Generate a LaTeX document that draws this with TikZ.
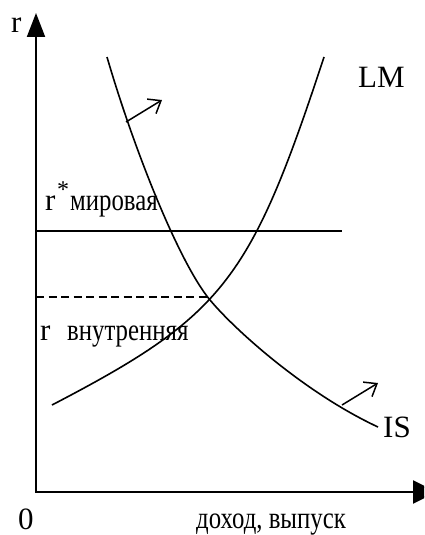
\documentclass[tikz,border=0pt]{standalone}
\usepackage{fontspec}
\setmainfont{Liberation Serif}
\usetikzlibrary{arrows.meta}
\tikzset{
  lbl/.style={anchor=base west, inner sep=0pt, font=\fontsize{31}{36}\selectfont},
  axisline/.style={line width=2pt},
  curve/.style={line width=1.6pt},
  shiftarrow/.style={line width=1.5pt, -{Straight Barb[length=11pt,width=17pt,line width=1.5pt]}}
}
\newcommand{\sq}[1]{\scalebox{0.8}[1]{#1}}
\begin{document}
\begin{tikzpicture}[x=1pt,y=-1pt]
\clip (0,0) rectangle (424,535);
\fill[white] (0,0) rectangle (424,535);
% axes
\coordinate (O) at (36,492);
\coordinate (ytop) at (36,13);
\coordinate (xend) at (437,492);
\draw[axisline, {Triangle[length=24pt,width=23pt]}-{Triangle[length=24pt,width=18pt]}] (xend) -- (O) -- (ytop);
% labels
\node[lbl] (rlab) at (11,33) {r};
\node[lbl] (zero) at (18,529) {0};
\node[lbl] (xlab) at (196,528) {\sq{доход, выпуск}};
\node[lbl] (lm) at (358,88) {LM};
\node[lbl] (is) at (383,437) {IS};
\node[lbl] (rw) at (45,210) {r};
\node[lbl, font=\fontsize{24}{24}\selectfont] (star) at (57,197) {*};
\node[lbl] (mir) at (70,210) {\sq{мировая}};
\node[lbl] (rv) at (40,340) {r};
\node[lbl] (vn) at (67,340) {\sq{внутренняя}};
% r* line
\coordinate (rsL) at (36,231);
\coordinate (rsR) at (342,231);
\draw[curve] (rsL) -- (rsR);
% r internal dashed
\coordinate (rdL) at (36,297);
\coordinate (rdR) at (212,297);
\draw[line width=2pt, dash pattern=on 8pt off 4.5pt] (rdL) -- (rdR);
% IS curve
\coordinate (isA) at (107,57);
\coordinate (E) at (210,300);
\coordinate (isB) at (378,427);
\draw[curve] (isA) .. controls (135,153) and (180,264) .. (E)
                   .. controls (235,330) and (305,393) .. (isB);
% LM curve
\coordinate (lmA) at (52,405);
\coordinate (lmB) at (324,57);
\draw[curve] (lmA) .. controls (223.3,315.8) and (250.4,281) .. (lmB);
% shift arrows
\coordinate (a1s) at (126,122);
\coordinate (a1e) at (162,100);
\draw[shiftarrow] (a1s) -- (a1e);
\coordinate (a2s) at (342,405);
\coordinate (a2e) at (378,383);
\draw[shiftarrow] (a2s) -- (a2e);
\end{tikzpicture}
\end{document}
